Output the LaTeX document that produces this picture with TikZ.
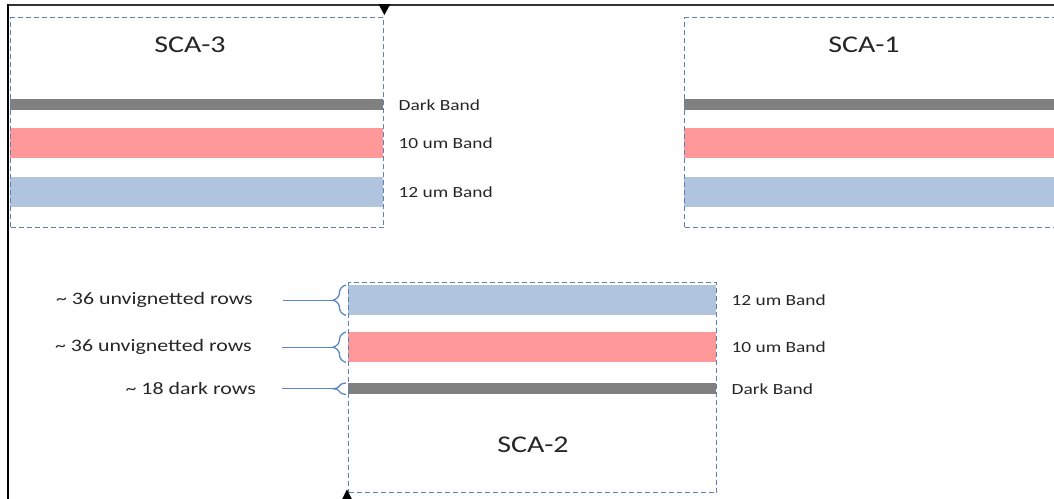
\documentclass[tikz,border=0pt]{standalone}
\usepackage{fontspec}
\setmainfont[FakeStretch=1.25]{Carlito}
\usetikzlibrary{positioning,decorations.pathreplacing}
\definecolor{scaline}{HTML}{5F80B4}
\definecolor{darkband}{HTML}{808080}
\definecolor{tenband}{HTML}{FF9999}
\definecolor{twelveband}{HTML}{B0C4DE}
\definecolor{bracecol}{HTML}{5B87C2}
\definecolor{labeltext}{HTML}{262626}

\begin{document}
\begin{tikzpicture}[x=1pt, y=-1pt,
  sca/.style={draw=scaline, line width=1.4pt, dash pattern=on 5pt off 3pt,
              inner sep=0pt, anchor=north west, minimum width=373pt, minimum height=210pt},
  title/.style={font=\fontsize{24}{28}\selectfont, text=black!85},
  band/.style={inner sep=0pt, anchor=north west, minimum width=#1},
  dark/.style={fill=darkband, minimum height=11pt},
  ten/.style={fill=tenband, minimum height=30pt},
  twelve/.style={fill=twelveband, minimum height=30pt},
  bandlbl/.style={font=\fontsize{15.5}{18}\selectfont, text=labeltext, inner sep=0pt},
  rowlbl/.style={font=\fontsize{17.5}{21}\selectfont, text=labeltext, inner sep=0pt},
  brc/.style={draw=bracecol, line width=1.3pt, decorate, decoration={brace, amplitude=13pt}},
  lnk/.style={draw=bracecol, line width=1.2pt}
]
  \useasboundingbox (0,0) rectangle (1054,498);

  % outer frame
  \draw[black!80, line width=2.4pt] (8,5) -- (1060,5);
  \draw[black, line width=1.6pt] (8,4) -- (8,502);

  % SCA-3
  \node[band=373pt, dark] (d3) at (10,99) {};
  \node[band=373pt, ten] (r3) at (10,128) {};
  \node[band=373pt, twelve] (b3) at (10,177) {};
  \node[sca] (sca3) at (10,17) {};
  \node[title] (t3) at (190,45) {SCA-3};
  \node[bandlbl, right=15pt of d3] {Dark Band};
  \node[bandlbl, right=15pt of r3] {10 um Band};
  \node[bandlbl, right=15pt of b3] {12 um Band};

  % SCA-1
  \node[band=372pt, dark] (d1) at (684,99) {};
  \node[band=372pt, ten] (r1) at (684,128) {};
  \node[band=372pt, twelve] (b1) at (684,177) {};
  \node[sca] (sca1) at (684,17) {};
  \node[title] (t1) at (864,45) {SCA-1};

  % SCA-2
  \node[band=368pt, twelve] (b2) at (348,285) {};
  \node[band=368pt, ten] (r2) at (348,332) {};
  \node[band=368pt, dark] (d2) at (348,383) {};
  \node[sca, minimum width=368pt] (sca2) at (348,282) {};
  \node[title] (t2) at (533,445) {SCA-2};
  \node[bandlbl, right=15pt of b2] {12 um Band};
  \node[bandlbl, right=15pt of r2] {10 um Band};
  \node[bandlbl, right=15pt of d2] {Dark Band};

  % corner markers
  \fill ([shift={(-6,-13)}]sca3.north east) -- ([shift={(6,-13)}]sca3.north east)
    -- ([shift={(0,-2)}]sca3.north east) -- cycle;
  \fill ([shift={(-7,8)}]sca2.south west) -- ([shift={(5,8)}]sca2.south west)
    -- ([shift={(-1,-4)}]sca2.south west) -- cycle;

  % row braces
  \draw[brc] ([xshift=-2pt]b2.south west) -- ([xshift=-2pt]b2.north west);
  \draw[brc] ([xshift=-2pt]r2.south west) -- ([xshift=-2pt]r2.north west);
  \draw[brc] ([xshift=-2pt]d2.south west) -- ([xshift=-2pt]d2.north west);
  \coordinate (tipb) at ([xshift=-15pt]b2.west);
  \coordinate (tipr) at ([xshift=-15pt]r2.west);
  \coordinate (tipd) at ([xshift=-15pt]d2.west);
  \coordinate[left=50pt of tipb] (sb);
  \coordinate[left=51pt of tipr] (sr);
  \coordinate[left=51pt of tipd] (sd);
  \node[rowlbl, left=30pt of sb] (nb) {\textasciitilde{} 36 unvignetted rows};
  \node[rowlbl, left=30pt of sr] (nr) {\textasciitilde{} 36 unvignetted rows};
  \node[rowlbl, left=26pt of sd] (nd) {\textasciitilde{} 18 dark rows};
  \draw[lnk] (sb) -- (tipb);
  \draw[lnk] (sr) -- (tipr);
  \draw[lnk] (sd) -- (tipd);
\end{tikzpicture}
\end{document}
